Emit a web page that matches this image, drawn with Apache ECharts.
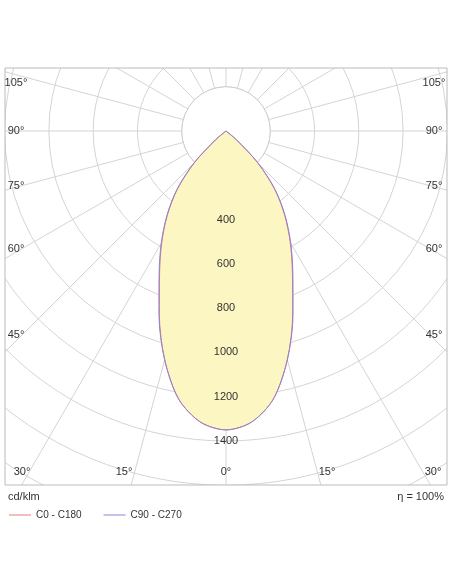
<!DOCTYPE html><html><head><meta charset="utf-8">
<script src="https://cdn.jsdelivr.net/npm/echarts@6/dist/echarts.min.js"></script>
<style>html,body{margin:0;background:#fff}#c{width:452px;height:584px}</style></head><body><div id="c"></div>
<script>
const gammaAngles=[-55,-50,-45,-40,-35,-30,-25,-20,-15,-10,-5,0,5,10,15,20,25,30,35,40,45,50,55];
const c0c180=[0,60,200,340,460,580,710,880,1070,1230,1320,1350,1320,1230,1070,880,710,580,460,340,200,60,0];
const c90c270=[0,62,205,345,465,585,715,885,1070,1230,1320,1350,1320,1230,1070,885,715,585,465,345,205,62,0];
const radiusLabels=[400,600,800,1000,1200,1400];
const sideAngles=[105,90,75,60,45];
const bottomAngles=[30,15,0,15,30];
const CX=226,CY=131,PX=0.2214,RMAXPX=700,BOX={l:5,t:68,r:447,b:485};
const chart=echarts.init(document.getElementById('c'));
const font='Arial, "Liberation Sans", sans-serif';
const mk=(vals)=>vals.map((v,i)=>[v,gammaAngles[i]]);
const txt=(x,y,s,align,base)=>({type:'text',z:200,style:{x,y,text:s,fill:'#333',font:'11px '+font,textAlign:align||'center',textVerticalAlign:base||'middle'}});
const g=[];
g.push({type:'rect',z:100,shape:{x:0,y:0,width:452,height:BOX.t},style:{fill:'#fff'}});
g.push({type:'rect',z:100,shape:{x:0,y:BOX.b,width:452,height:584-BOX.b},style:{fill:'#fff'}});
g.push({type:'rect',z:100,shape:{x:0,y:0,width:BOX.l,height:584},style:{fill:'#fff'}});
g.push({type:'rect',z:100,shape:{x:BOX.r,y:0,width:452-BOX.r,height:584},style:{fill:'#fff'}});
g.push({type:'rect',z:101,shape:{x:BOX.l,y:BOX.t,width:BOX.r-BOX.l,height:BOX.b-BOX.t},style:{fill:'none',stroke:'#bbb',lineWidth:1}});
g.push({type:'circle',z:1,shape:{cx:CX,cy:CY,r:200*PX},style:{fill:'#fff',stroke:'#ccc'}});
const half=CX-BOX.l;
const sideY=[83,131,186,249,335];
sideAngles.forEach((a,i)=>{g.push(txt(16,sideY[i],a+'°'));g.push(txt(434,sideY[i],a+'°'));});
const bx=[22,124,226,327,433];
bottomAngles.forEach((a,i)=>g.push(txt(bx[i],472,a+'°')));
g.push(txt(8,497,'cd/klm','left'));
g.push(txt(444,497,'η = 100%','right'));
chart.setOption({
 animation:false,
 polar:{center:[CX,CY],radius:RMAXPX},
 angleAxis:{type:'value',min:-180,max:180,startAngle:90,clockwise:true,interval:15,z:0,
  axisLine:{show:false},axisTick:{show:false},axisLabel:{show:false},splitLine:{lineStyle:{color:'#d4d4d4'}}},
 radiusAxis:{type:'value',min:0,max:RMAXPX/PX,interval:200,z:0,axisLine:{show:false},axisTick:{show:false},axisLabel:{show:false},
  splitLine:{lineStyle:{color:'#d4d4d4'}}},
 legend:{z:300,left:4,top:505,itemWidth:22,itemHeight:1,itemGap:22,icon:'rect',textStyle:{fontSize:10,color:'#333',fontFamily:font},data:['C0 - C180','C90 - C270']},
 series:[
  {name:'C0 - C180',type:'line',coordinateSystem:'polar',data:mk(c0c180),symbol:'none',smooth:0.3,z:5,
   lineStyle:{color:'#e37b7b',width:1},itemStyle:{color:'#e37b7b'},areaStyle:{color:'#fcf6c2',opacity:1}},
  {name:'C90 - C270',type:'line',coordinateSystem:'polar',data:mk(c90c270),symbol:'none',smooth:0.3,z:6,
   lineStyle:{color:'#8a83d6',width:1},itemStyle:{color:'#8a83d6'}}
 ],
 graphic:g
});
radiusLabels.forEach(r=>{const p=chart.convertToPixel({polarIndex:0},[r,0]);g.push(txt(p[0],p[1],String(r)));});
chart.setOption({graphic:g});
</script></body></html>
